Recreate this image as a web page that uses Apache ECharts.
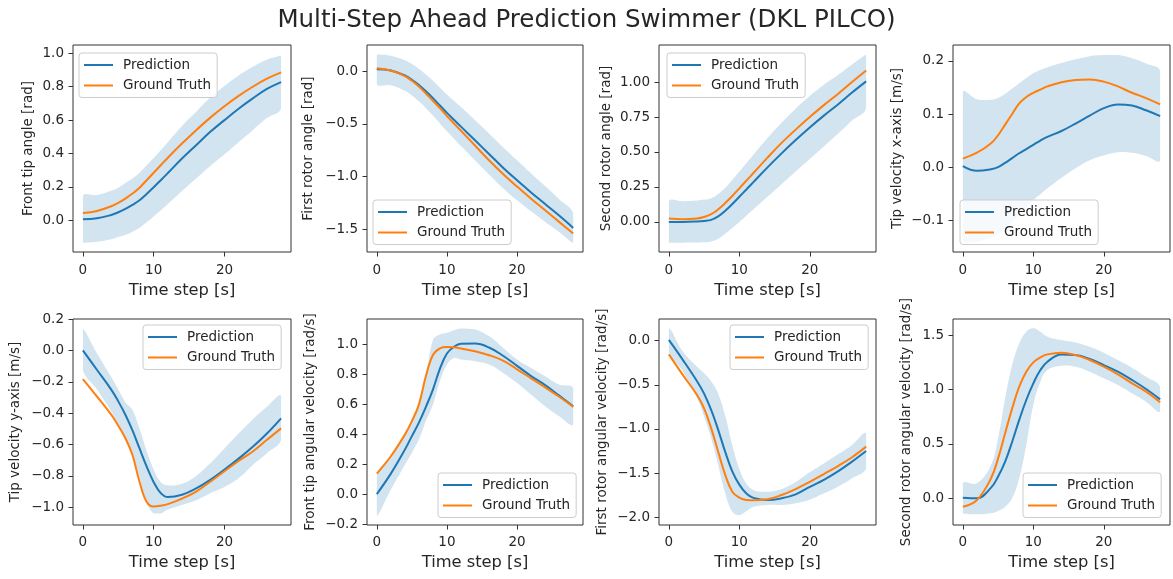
<!DOCTYPE html>
<html><head><meta charset="utf-8">
<script src="https://cdn.jsdelivr.net/npm/echarts@6/dist/echarts.min.js"></script>
<style>html,body{margin:0;padding:0;background:#fff}#c{width:1173px;height:579px}</style>
</head><body><div id="c"></div>
<script>
// ---------- DATA ----------
const T = [0,2,4,5,6,7,8,9,10,11,12,14,16,18,20,22,24,26,28];
const xTicks = [0,10,20];
const xTickLabels = ['0','10','20'];
const seriesNames = ['Prediction','Ground Truth'];
const chartTitle = 'Multi-Step Ahead Prediction Swimmer (DKL PILCO)';
const xName = 'Time step [s]';

// Panel 1: Front tip angle
const p1Pred  = [0.006,0.012,0.032,0.048,0.068,0.092,0.12,0.158,0.198,0.24,0.283,0.37,0.45,0.53,0.6,0.668,0.73,0.787,0.828];
const p1Truth = [0.044,0.056,0.084,0.105,0.13,0.16,0.195,0.24,0.285,0.33,0.375,0.46,0.54,0.615,0.683,0.745,0.8,0.848,0.886];
const p1Upper = [0.146,0.152,0.177,0.195,0.223,0.25,0.285,0.33,0.373,0.42,0.468,0.565,0.65,0.735,0.805,0.868,0.92,0.962,0.985];
const p1Lower = [-0.134,-0.128,-0.113,-0.1,-0.087,-0.068,-0.045,-0.012,0.023,0.06,0.098,0.175,0.25,0.325,0.395,0.468,0.54,0.612,0.671];
// Panel 2: First rotor angle
const p2Pred  = [0.02,0.008,-0.04,-0.08,-0.13,-0.19,-0.255,-0.325,-0.395,-0.46,-0.525,-0.655,-0.785,-0.915,-1.035,-1.15,-1.26,-1.37,-1.487];
const p2Truth = [0.03,0.008,-0.045,-0.09,-0.145,-0.21,-0.28,-0.35,-0.425,-0.495,-0.565,-0.705,-0.845,-0.975,-1.095,-1.21,-1.32,-1.43,-1.54];
const p2Upper = [0.16,0.148,0.105,0.07,0.025,-0.03,-0.09,-0.155,-0.22,-0.28,-0.34,-0.465,-0.59,-0.72,-0.845,-0.97,-1.09,-1.215,-1.347];
const p2Lower = [-0.12,-0.132,-0.185,-0.23,-0.285,-0.35,-0.42,-0.495,-0.57,-0.64,-0.71,-0.845,-0.98,-1.11,-1.225,-1.33,-1.43,-1.525,-1.627];
// Panel 3: Second rotor angle
const p3Pred  = [0,0,0.003,0.007,0.015,0.04,0.08,0.128,0.18,0.232,0.285,0.39,0.49,0.585,0.675,0.76,0.84,0.925,1.005];
const p3Truth = [0.024,0.02,0.025,0.035,0.055,0.09,0.135,0.185,0.24,0.295,0.35,0.46,0.565,0.66,0.75,0.835,0.915,1.0,1.083];
const p3Upper = [0.148,0.148,0.153,0.16,0.17,0.2,0.245,0.3,0.36,0.42,0.48,0.6,0.71,0.81,0.9,0.98,1.05,1.125,1.195];
const p3Lower = [-0.148,-0.148,-0.147,-0.146,-0.14,-0.12,-0.085,-0.044,0,0.045,0.09,0.18,0.27,0.36,0.45,0.54,0.63,0.725,0.815];
// Panel 4: Tip velocity x-axis
const p4Pred  = [0.002,-0.007,-0.004,0,0.008,0.017,0.026,0.034,0.042,0.05,0.057,0.068,0.082,0.097,0.111,0.118,0.116,0.107,0.096];
const p4Truth = [0.016,0.027,0.045,0.06,0.08,0.1,0.12,0.132,0.14,0.146,0.152,0.16,0.164,0.165,0.161,0.152,0.14,0.13,0.118];
const p4Upper = [0.141,0.128,0.127,0.13,0.138,0.148,0.158,0.168,0.177,0.183,0.188,0.196,0.203,0.209,0.211,0.211,0.205,0.195,0.18];
const p4Lower = [-0.142,-0.14,-0.133,-0.125,-0.115,-0.103,-0.09,-0.076,-0.062,-0.051,-0.04,-0.02,-0.002,0.013,0.022,0.028,0.027,0.021,0.013];
// Panel 5: Tip velocity y-axis
const p5Pred  = [0,-0.125,-0.25,-0.325,-0.41,-0.51,-0.625,-0.74,-0.84,-0.91,-0.935,-0.92,-0.88,-0.825,-0.76,-0.69,-0.615,-0.53,-0.433];
const p5Truth = [-0.183,-0.295,-0.41,-0.48,-0.56,-0.667,-0.837,-0.965,-0.995,-0.99,-0.98,-0.945,-0.9,-0.837,-0.77,-0.705,-0.645,-0.57,-0.497];
const p5Upper = [0.136,-0.02,-0.17,-0.25,-0.33,-0.38,-0.5,-0.64,-0.76,-0.84,-0.86,-0.85,-0.8,-0.72,-0.625,-0.53,-0.44,-0.36,-0.29];
const p5Lower = [-0.125,-0.25,-0.39,-0.47,-0.56,-0.67,-0.81,-0.97,-1.04,-1.04,-1.015,-0.985,-0.955,-0.91,-0.87,-0.815,-0.73,-0.655,-0.57];
// Panel 6: Front tip angular velocity
const p6Pred  = [0.004,0.14,0.3,0.39,0.48,0.585,0.7,0.84,0.94,0.985,1.005,1.006,0.98,0.925,0.858,0.79,0.73,0.66,0.589];
const p6Truth = [0.14,0.256,0.4,0.49,0.6,0.79,0.93,0.975,0.984,0.982,0.973,0.955,0.929,0.893,0.835,0.775,0.715,0.652,0.585];
const p6Upper = [0.13,0.26,0.4,0.5,0.6,0.78,1.03,1.067,1.078,1.095,1.107,1.1,1.056,0.978,0.9,0.844,0.789,0.733,0.711];
const p6Lower = [-0.14,0.033,0.2,0.28,0.367,0.49,0.6,0.756,0.867,0.911,0.9,0.889,0.867,0.811,0.744,0.667,0.589,0.522,0.467];
// Panel 7: First rotor angular velocity
const p7Pred  = [0.008,-0.22,-0.46,-0.6,-0.785,-1.01,-1.26,-1.48,-1.63,-1.73,-1.78,-1.805,-1.785,-1.74,-1.655,-1.575,-1.48,-1.37,-1.25];
const p7Truth = [-0.155,-0.39,-0.615,-0.766,-0.99,-1.257,-1.52,-1.71,-1.777,-1.805,-1.808,-1.796,-1.747,-1.68,-1.6,-1.51,-1.42,-1.32,-1.2];
const p7Upper = [0.14,-0.125,-0.295,-0.37,-0.46,-0.6,-0.85,-1.18,-1.45,-1.62,-1.69,-1.71,-1.68,-1.6,-1.49,-1.39,-1.287,-1.18,-1.05];
const p7Lower = [-0.125,-0.35,-0.65,-0.86,-1.105,-1.407,-1.728,-1.936,-1.975,-1.93,-1.88,-1.86,-1.86,-1.84,-1.8,-1.728,-1.653,-1.558,-1.445];
// Panel 8: Second rotor angular velocity
const p8Pred  = [0.006,0,0.098,0.2,0.337,0.52,0.72,0.903,1.056,1.178,1.255,1.322,1.316,1.28,1.224,1.163,1.087,1.004,0.909];
const p8Truth = [-0.077,-0.015,0.184,0.367,0.597,0.826,1.025,1.163,1.249,1.295,1.322,1.338,1.316,1.27,1.209,1.139,1.056,0.98,0.882];
const p8Upper = [0.138,0.138,0.306,0.551,0.918,1.224,1.423,1.53,1.561,1.53,1.485,1.454,1.432,1.393,1.338,1.27,1.2,1.117,1.025];
const p8Lower = [-0.138,-0.147,-0.138,-0.116,-0.077,0,0.184,0.49,0.857,1.071,1.178,1.218,1.209,1.163,1.102,1.041,0.964,0.888,0.796];

const yNames = ['Front tip angle [rad]','First rotor angle [rad]','Second rotor angle [rad]','Tip velocity x-axis [m/s]',
  'Tip velocity y-axis [m/s]','Front tip angular velocity [rad/s]','First rotor angular velocity [rad/s]','Second rotor angular velocity [rad/s]'];
const yTicks = [
  [0,0.2,0.4,0.6,0.8,1.0],
  [0,-0.5,-1.0,-1.5],
  [0,0.25,0.5,0.75,1.0],
  [-0.1,0,0.1,0.2],
  [-1.0,-0.8,-0.6,-0.4,-0.2,0,0.2],
  [-0.2,0,0.2,0.4,0.6,0.8,1.0],
  [0,-0.5,-1.0,-1.5,-2.0],
  [0,0.5,1.0,1.5]
];
const yTickLabels = [
  ['0.0','0.2','0.4','0.6','0.8','1.0'],
  ['0.0','\u22120.5','\u22121.0','\u22121.5'],
  ['0.00','0.25','0.50','0.75','1.00'],
  ['\u22120.1','0.0','0.1','0.2'],
  ['\u22121.0','\u22120.8','\u22120.6','\u22120.4','\u22120.2','0.0','0.2'],
  ['\u22120.2','0.0','0.2','0.4','0.6','0.8','1.0'],
  ['0.0','\u22120.5','\u22121.0','\u22121.5','\u22122.0'],
  ['0.0','0.5','1.0','1.5']
];
const preds  = [p1Pred,p2Pred,p3Pred,p4Pred,p5Pred,p6Pred,p7Pred,p8Pred];
const truths = [p1Truth,p2Truth,p3Truth,p4Truth,p5Truth,p6Truth,p7Truth,p8Truth];
const uppers = [p1Upper,p2Upper,p3Upper,p4Upper,p5Upper,p6Upper,p7Upper,p8Upper];
const lowers = [p1Lower,p2Lower,p3Lower,p4Lower,p5Lower,p6Lower,p7Lower,p8Lower];

// ---------- LAYOUT / STYLE ----------
const FONT = 'DejaVu Sans';
const TXT = '#262626';
const xRange = [-1.4, 29.4];
const yRanges = [[-0.19,1.05],[-1.716,0.25],[-0.215,1.265],[-0.16,0.23],[-1.113,0.2],[-0.202,1.17],[-2.087,0.245],[-0.245,1.647]];
const colLeft = [73,367,659,953], colWidth = [218,216,217,217];
const rowTop = [45,319], rowHeight = [207,206];
const yNameGaps = [38,52,46,49,51,50,50,40];
const legendPos = [[79,53],[373,200],[667,53],[960,200],[143,325],[438,473],[730,325],[1023,473]];
const SMOOTH = 0.4;

const option = {
  animation:false,
  backgroundColor:'#fff',
  title:{text:chartTitle, left:'center', top:3, textStyle:{fontSize:24.5, fontWeight:'normal', color:TXT, fontFamily:FONT}},
  grid:[], xAxis:[], yAxis:[], legend:[], series:[]
};

function lookup(ticks, labels){
  return function(v){
    for (let k=0;k<ticks.length;k++) if (Math.abs(ticks[k]-v)<1e-9) return labels[k];
    return '';
  };
}

function bandRenderer(lo, up){
  return function(params, api){
    if (params.dataIndex !== 0) return null;
    const pts = [];
    for (let k=0;k<T.length;k++) pts.push(api.coord([T[k], up[k]]));
    for (let k=T.length-1;k>=0;k--) pts.push(api.coord([T[k], lo[k]]));
    const p0 = pts[0];
    return {type:'polygon', shape:{points:pts, smooth:SMOOTH, smoothConstraint:[[p0[0],p0[1]],[p0[0],p0[1]]]},
      style:{fill:'rgba(31,119,180,0.2)'}, silent:true};
  };
}

for (let i=0;i<8;i++){
  const r = Math.floor(i/4), c = i%4;
  option.grid.push({left:colLeft[c], top:rowTop[r], width:colWidth[c], height:rowHeight[r],
    show:true, borderColor:'#333', borderWidth:1, backgroundColor:'transparent', containLabel:false});
  option.xAxis.push({type:'value', gridIndex:i, min:xRange[0], max:xRange[1], position:'bottom',
    name:xName, nameLocation:'middle', nameGap:r===0?31:30,
    nameTextStyle:{fontSize:16.3, color:TXT, fontFamily:FONT},
    axisLine:{show:false, onZero:false}, splitLine:{show:false},
    axisTick:{show:true, customValues:xTicks, length:4.5, lineStyle:{color:'#333'}},
    axisLabel:{customValues:xTicks, formatter:lookup(xTicks,xTickLabels), margin:r===0?11:10, fontSize:13.5, color:TXT, fontFamily:FONT}
  });
  option.yAxis.push({type:'value', gridIndex:i, min:yRanges[i][0], max:yRanges[i][1], position:'left',
    name:yNames[i], nameLocation:'middle', nameGap:yNameGaps[i],
    nameTextStyle:{fontSize:13.5, color:TXT, fontFamily:FONT},
    axisLine:{show:false, onZero:false}, splitLine:{show:false},
    axisTick:{show:true, customValues:yTicks[i], length:4.5, lineStyle:{color:'#333'}},
    axisLabel:{customValues:yTicks[i], formatter:lookup(yTicks[i],yTickLabels[i]), margin:9, fontSize:13.5, color:TXT, fontFamily:FONT}
  });
  option.legend.push({left:legendPos[i][0], top:legendPos[i][1], orient:'vertical', data:seriesNames,
    icon:'rect', itemWidth:29, itemHeight:2, itemGap:4.5, padding:[4,6,4,5],
    borderColor:'#cccccc', borderWidth:1, borderRadius:3, backgroundColor:'rgba(255,255,255,0.8)',
    selectedMode:false,
    textStyle:{fontSize:13.5, color:TXT, fontFamily:FONT, lineHeight:16, padding:[0,0,0,5]}
  });
  const lo = lowers[i], up = uppers[i];
  option.series.push({type:'custom', name:'band-'+i, coordinateSystem:'cartesian2d', xAxisIndex:i, yAxisIndex:i,
    data:T.map((t,k)=>[t, lo[k], up[k]]), renderItem:bandRenderer(lo, up), silent:true, z:1});
  option.series.push({type:'line', name:seriesNames[0], xAxisIndex:i, yAxisIndex:i,
    data:T.map((t,k)=>[t, preds[i][k]]), symbol:'none', smooth:SMOOTH, color:'#1f77b4',
    lineStyle:{width:2, color:'#1f77b4'}, z:3});
  option.series.push({type:'line', name:seriesNames[1], xAxisIndex:i, yAxisIndex:i,
    data:T.map((t,k)=>[t, truths[i][k]]), symbol:'none', smooth:SMOOTH, color:'#ff7f0e',
    lineStyle:{width:2, color:'#ff7f0e'}, z:4});
}

const chart = echarts.init(document.getElementById('c'), null, {renderer:'canvas'});
chart.setOption(option);
</script>
</body></html>
